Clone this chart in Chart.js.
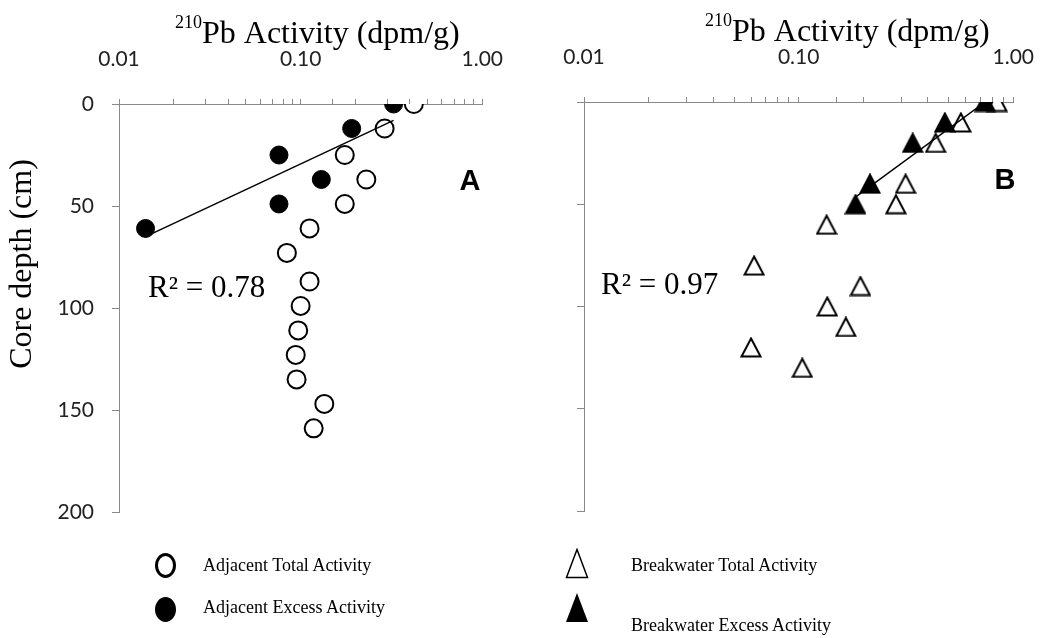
<!DOCTYPE html>
<html lang="en-US">
<head>
  <meta charset="utf-8">
  <title>210Pb activity profiles</title>
  <script src="https://cdnjs.cloudflare.com/ajax/libs/Chart.js/4.4.1/chart.umd.min.js"></script>
  <style>
  body { margin: 0; background: #fff; }
  #wrap { position: relative; width: 1061px; height: 638px; }
  canvas { position: absolute; top: 0; }
  .key { position: absolute; font: 18px "Liberation Serif", "Times New Roman", serif; color: #000; line-height: 20px; white-space: nowrap; }
  .dot { position: absolute; width: 21px; height: 25px; border-radius: 50%; box-sizing: border-box; border: 3px solid #000; }
  </style>
</head>
<body>
<div id="wrap">
  <canvas id="chartA" width="530" height="638" style="left:0"></canvas>
  <canvas id="chartB" width="531" height="638" style="left:530px"></canvas>

  <div class="dot" style="left:155px;top:553px;background:#fff"></div>
  <div class="key" style="left:203px;top:555px">Adjacent Total Activity</div>
  <div class="dot" style="left:155px;top:597px;background:#000"></div>
  <div class="key" style="left:203px;top:597px">Adjacent Excess Activity</div>

  <svg style="position:absolute;left:565px;top:548px" width="24" height="31"><polygon points="12,1.5 22.5,29.5 1.5,29.5" fill="#fff" stroke="#000" stroke-width="1.5"/></svg>
  <div class="key" style="left:631px;top:555px">Breakwater Total Activity</div>
  <svg style="position:absolute;left:565px;top:592px" width="24" height="31"><polygon points="12,1 23,30 1,30" fill="#000"/></svg>
  <div class="key" style="left:631px;top:615px">Breakwater Excess Activity</div>
</div>
<script>
  // Adjacent core (panel A)
  const adjTotalDepth = [0, 12, 25, 37, 49, 61, 73, 87, 99, 111, 123, 135, 147, 159];
  const adjTotal = [0.42, 0.29, 0.175, 0.23, 0.175, 0.112, 0.084, 0.112, 0.10, 0.097, 0.094, 0.095, 0.135, 0.118];
  const adjExcessDepth = [0, 12, 25, 37, 49, 61];
  const adjExcess = [0.325, 0.191, 0.076, 0.13, 0.076, 0.014];
  const adjTrendX = [0.014, 0.325];
  const adjTrendDepth = [65, 8];

  // Breakwater core (panel B)
  const brkTotalDepth = [0, 10, 20, 40, 50, 60, 80, 90, 100, 110, 120, 130];
  const brkTotal = [0.84, 0.57, 0.435, 0.315, 0.284, 0.135, 0.062, 0.194, 0.136, 0.166, 0.06, 0.104];
  const brkExcessDepth = [0, 10, 20, 40, 50];
  const brkExcess = [0.74, 0.48, 0.34, 0.215, 0.184];
  const brkTrendX = [0.184, 0.74];
  const brkTrendDepth = [46.5, 0];

  const decades = [0.01, 0.1, 1];
  const xTickLabels = ['0.01', '0.10', '1.00'];
  const depthMax = 200;
  const depthStep = 50;

  const AXIS_GRAY = '#898989';
  const SERIF = '"Liberation Serif", "Times New Roman", serif';

  function pts(xs, ys) {
    return xs.map((x, i) => ({ x: x, y: ys[i] }));
  }

  function triangle(filled) {
    const c = document.createElement('canvas');
    c.width = 22; c.height = 21;
    const g = c.getContext('2d');
    g.beginPath();
    g.moveTo(11, 1.5); g.lineTo(20.5, 19.5); g.lineTo(1.5, 19.5); g.closePath();
    g.fillStyle = filled ? '#000' : '#fff';
    g.fill();
    g.lineWidth = 2; g.strokeStyle = '#000'; g.lineJoin = 'miter';
    g.stroke();
    return c;
  }

  // titles, panel letter and R² note
  const panelText = {
    id: 'panelText',
    afterDraw(chart, args, o) {
      const ctx = chart.ctx;
      ctx.save();
      ctx.fillStyle = '#000';
      ctx.textBaseline = 'alphabetic';
      ctx.textAlign = 'left';
      ctx.font = '18px ' + SERIF;
      ctx.fillText('210', o.titleX, o.titleY - 15);
      const w = ctx.measureText('210').width;
      ctx.font = '32px ' + SERIF;
      ctx.fillText('Pb Activity (dpm/g)', o.titleX + w, o.titleY);

      ctx.font = '31px ' + SERIF;
      ctx.fillText(o.r2, o.r2X, o.r2Y);

      ctx.font = 'bold 29px "Liberation Sans", Arial, sans-serif';
      ctx.textAlign = 'center';
      ctx.textBaseline = 'middle';
      ctx.fillText(o.letter, o.letterX, o.letterY);

      if (o.yTitle) {
        ctx.translate(o.yTitleX, o.yTitleY);
        ctx.rotate(-Math.PI / 2);
        ctx.font = '32px ' + SERIF;
        ctx.fillText(o.yTitle, 0, 0);
      }
      ctx.restore();
    }
  };

  function makeChart(id, box, datasets, showDepthLabels, text) {
    const ctx = document.getElementById(id).getContext('2d');
    return new Chart(ctx, {
      type: 'scatter',
      data: { datasets: datasets },
      options: {
        responsive: false,
        animation: false,
        layout: { padding: { left: 0, top: 0, right: box.padRight, bottom: box.padBottom } },
        plugins: { legend: { display: false }, tooltip: { enabled: false }, panelText: text },
        scales: {
          x: {
            type: 'logarithmic',
            position: 'top',
            min: 0.01,
            max: 1,
            afterFit: s => { s.height = box.top; },
            border: { display: true, color: AXIS_GRAY, width: 1 },
            grid: { drawOnChartArea: false, drawTicks: true, tickLength: 5, color: AXIS_GRAY },
            ticks: {
              autoSkip: false,
              maxRotation: 0,
              padding: 27,
              color: '#222',
              font: { family: 'Lato, "Open Sans", sans-serif', size: 21 },
              callback: v => {
                const i = decades.findIndex(d => Math.abs(v / d - 1) < 1e-6);
                return i >= 0 ? xTickLabels[i] : '';
              }
            }
          },
          y: {
            reverse: true,
            min: 0,
            max: depthMax,
            afterFit: s => { s.width = box.left; },
            border: { display: true, color: AXIS_GRAY, width: 1 },
            grid: { drawOnChartArea: false, drawTicks: true, tickLength: 7, color: AXIS_GRAY },
            ticks: {
              stepSize: depthStep,
              padding: 18,
              color: '#222',
              font: { family: 'Lato, "Open Sans", sans-serif', size: 21 },
              callback: v => showDepthLabels ? String(v) : ''
            }
          }
        }
      },
      plugins: [panelText]
    });
  }

  const trendStyle = {
    type: 'line', showLine: true, pointRadius: 0, borderColor: '#000',
    borderWidth: 1.5, fill: false, tension: 0
  };

  window.onload = function () {
    makeChart('chartA', { left: 119, top: 104, padRight: 30, padBottom: 126 }, [
      Object.assign({ label: 'Adjacent trend', data: pts(adjTrendX, adjTrendDepth) }, trendStyle),
      {
        label: 'Adjacent Excess Activity', data: pts(adjExcess, adjExcessDepth),
        pointStyle: 'circle', pointRadius: 9, backgroundColor: '#000', borderColor: '#000', borderWidth: 1
      },
      {
        label: 'Adjacent Total Activity', data: pts(adjTotal, adjTotalDepth),
        pointStyle: 'circle', pointRadius: 9, backgroundColor: '#fff', borderColor: '#000', borderWidth: 2
      }
    ], true, {
      titleX: 175, titleY: 43,
      r2: 'R² = 0.78', r2X: 148, r2Y: 297,
      letter: 'A', letterX: 470, letterY: 182,
      yTitle: 'Core depth (cm)', yTitleX: 23, yTitleY: 264
    });

    makeChart('chartB', { left: 54, top: 102, padRight: 34, padBottom: 127 }, [
      Object.assign({ label: 'Breakwater trend', data: pts(brkTrendX, brkTrendDepth) }, trendStyle),
      {
        label: 'Breakwater Excess Activity', data: pts(brkExcess, brkExcessDepth),
        pointStyle: triangle(true)
      },
      {
        label: 'Breakwater Total Activity', data: pts(brkTotal, brkTotalDepth),
        pointStyle: triangle(false)
      }
    ], false, {
      titleX: 175, titleY: 41,
      r2: 'R² = 0.97', r2X: 71, r2Y: 294,
      letter: 'B', letterX: 475, letterY: 181
    });
  };
</script>
</body>
</html>
